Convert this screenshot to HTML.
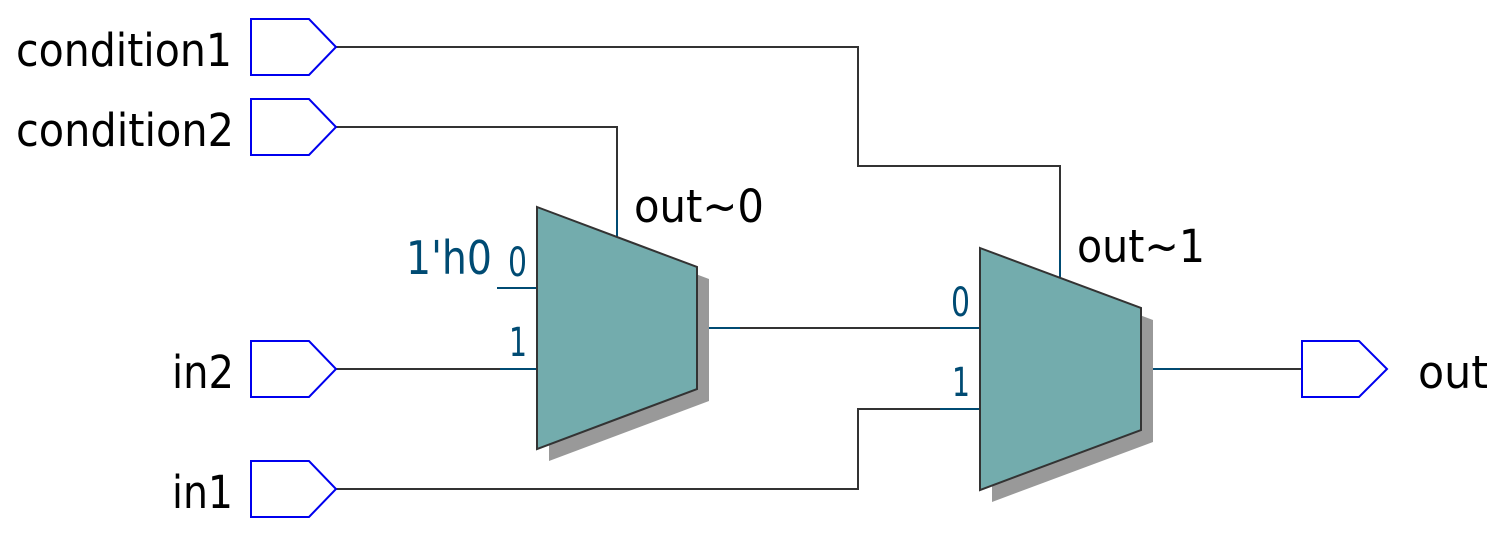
<!DOCTYPE html>
<html><head><meta charset="utf-8"><style>
html,body{margin:0;padding:0;background:#fff;width:1511px;height:556px;overflow:hidden}
text{font-family:"DejaVu Sans","Liberation Sans",sans-serif}
</style></head><body>
<svg width="1511" height="556" viewBox="0 0 1511 556" xmlns="http://www.w3.org/2000/svg">
<g fill="none" stroke="#333" stroke-width="2">
<polyline points="336,47 858,47 858,166 1060,166 1060,250"/>
<polyline points="336,127 617,127 617,210"/>
<line x1="336" y1="369" x2="500" y2="369"/>
<polyline points="336,489 858,489 858,409 940,409"/>
<line x1="740" y1="328" x2="940" y2="328"/>
<line x1="1180" y1="369" x2="1302" y2="369"/>
</g>
<g fill="none" stroke="#004b73" stroke-width="2">
<line x1="617" y1="210" x2="617" y2="237"/>
<line x1="1060" y1="250" x2="1060" y2="277"/>
<line x1="497" y1="288" x2="537" y2="288"/>
<line x1="500" y1="369" x2="537" y2="369"/>
<line x1="697" y1="328" x2="740" y2="328"/>
<line x1="940" y1="328" x2="980" y2="328"/>
<line x1="940" y1="409" x2="980" y2="409"/>
<line x1="1141" y1="369" x2="1180" y2="369"/>
</g>
<polygon points="549,219 709,279 709,401 549,461" fill="#999"/>
<polygon points="537,207 697,267 697,389 537,449" fill="#73acad" stroke="#333" stroke-width="2"/>
<polygon points="992,260 1153,320 1153,442 992,502" fill="#999"/>
<polygon points="980,248 1141,308 1141,430 980,490" fill="#73acad" stroke="#333" stroke-width="2"/>
<g fill="#fff" stroke="#0000ee" stroke-width="2">
<polygon points="251,19 309,19 336,47 309,75 251,75"/>
<polygon points="251,99 309,99 336,127 309,155 251,155"/>
<polygon points="251,341 309,341 336,369 309,397 251,397"/>
<polygon points="251,461 309,461 336,489 309,517 251,517"/>
<polygon points="1302,341 1359,341 1387,369 1359,397 1302,397"/>
</g>
<g fill="#000" font-size="45">
<text x="16" y="66" textLength="216" lengthAdjust="spacingAndGlyphs">condition1</text>
<text x="16" y="146" textLength="218" lengthAdjust="spacingAndGlyphs">condition2</text>
<text x="172" y="388" textLength="62" lengthAdjust="spacingAndGlyphs">in2</text>
<text x="172" y="508" textLength="61" lengthAdjust="spacingAndGlyphs">in1</text>
<text x="1418" y="388" textLength="70" lengthAdjust="spacingAndGlyphs">out</text>
<text x="634" y="222" textLength="130" lengthAdjust="spacingAndGlyphs">out~0</text>
<text x="1077" y="262" textLength="128" lengthAdjust="spacingAndGlyphs">out~1</text>
</g>
<g fill="#004b73">
<text x="406" y="274" font-size="46" textLength="86" lengthAdjust="spacingAndGlyphs">1'h0</text>
<text x="508" y="276" font-size="40" textLength="19" lengthAdjust="spacingAndGlyphs">0</text>
<text x="509" y="356" font-size="40" textLength="18" lengthAdjust="spacingAndGlyphs">1</text>
<text x="951" y="316" font-size="40" textLength="19" lengthAdjust="spacingAndGlyphs">0</text>
<text x="952" y="396" font-size="40" textLength="18" lengthAdjust="spacingAndGlyphs">1</text>
</g>
</svg>
</body></html>
